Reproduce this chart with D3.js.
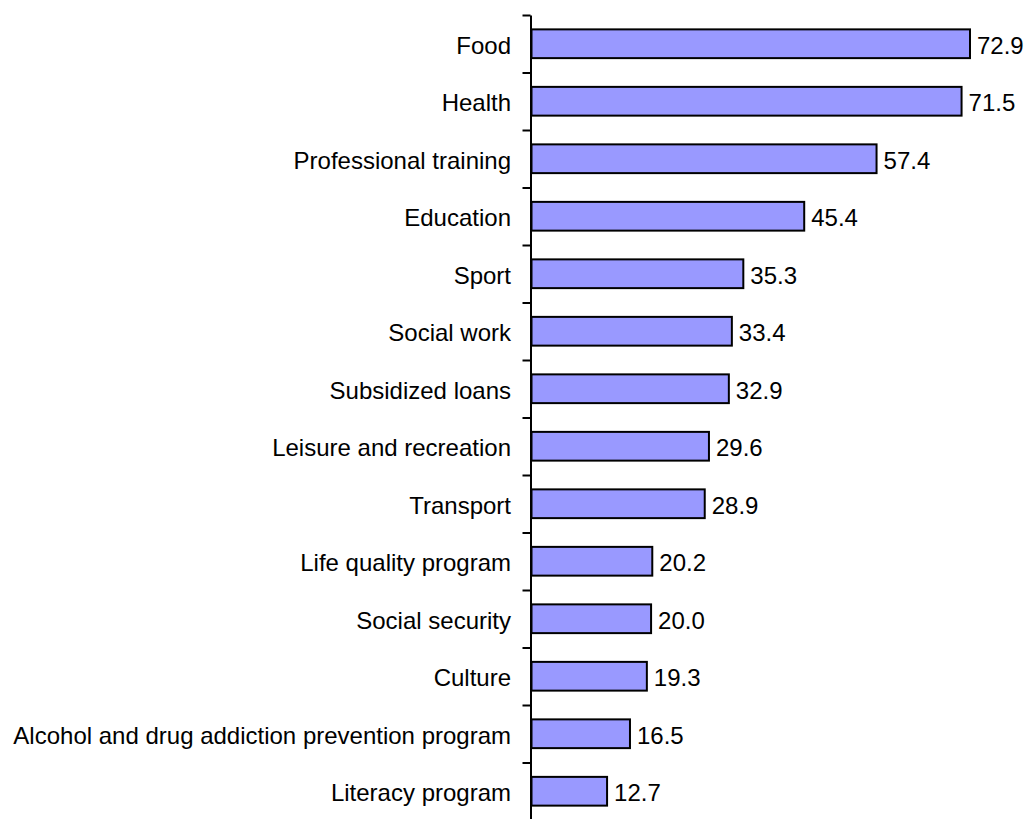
<!DOCTYPE html>
<html>
<head>
<meta charset="utf-8">
<script src="https://cdn.jsdelivr.net/npm/d3@7"></script>
<style>
  html, body { margin: 0; padding: 0; background: #fff; }
  svg { display: block; }
  text { font-family: "Liberation Sans", Arial, sans-serif; }
</style>
</head>
<body>
<svg id="chart" width="1027" height="819"></svg>
<script>
// Share of respondents per service area (%)
const categories = [
  "Food", "Health", "Professional training", "Education", "Sport",
  "Social work", "Subsidized loans", "Leisure and recreation", "Transport",
  "Life quality program", "Social security", "Culture",
  "Alcohol and drug addiction prevention program", "Literacy program"
];
const values = [72.9, 71.5, 57.4, 45.4, 35.3, 33.4, 32.9, 29.6, 28.9, 20.2, 20.0, 19.3, 16.5, 12.7];

const svg = d3.select("#chart");
const axisX = 530.5;
const plotTop = 15, plotBottom = 820;

const x = d3.scaleLinear().domain([0, 72.9]).range([axisX, 970]);
const y = d3.scaleBand().domain(categories).range([plotTop, plotBottom]).paddingInner(0.5).paddingOuter(0.25);

// Bars
svg.selectAll("rect.bar")
  .data(values)
  .join("rect")
  .attr("class", "bar")
  .attr("x", x(0) + 1)
  .attr("y", (d, i) => y(categories[i]))
  .attr("width", d => x(d) - x(0) - 1)
  .attr("height", y.bandwidth())
  .attr("fill", "#9999ff")
  .attr("stroke", "#000")
  .attr("stroke-width", 2);

// Value labels
svg.selectAll("text.val")
  .data(values)
  .join("text")
  .attr("class", "val")
  .attr("x", d => x(d) + 7)
  .attr("y", (d, i) => y(categories[i]) + y.bandwidth() / 2)
  .attr("dy", "0.41em")
  .attr("font-size", 24)
  .attr("fill", "#000")
  .text(d => d3.format(".1f")(d));

// Category labels
svg.selectAll("text.cat")
  .data(categories)
  .join("text")
  .attr("class", "cat")
  .attr("x", 511)
  .attr("y", d => y(d) + y.bandwidth() / 2)
  .attr("dy", "0.41em")
  .attr("text-anchor", "end")
  .attr("font-size", 24)
  .attr("fill", "#000")
  .text(d => d);

// Vertical axis with ticks on category boundaries
const axisScale = d3.scaleLinear().domain([0, categories.length]).range([plotTop, plotBottom]);
const axisG = svg.append("g").attr("transform", `translate(${axisX},0)`)
  .call(d3.axisLeft(axisScale).tickValues(d3.range(categories.length + 1)).tickSize(8).tickSizeOuter(0).tickFormat(""));
axisG.select(".domain").attr("stroke", "#000").attr("stroke-width", 2);
axisG.selectAll(".tick line").attr("stroke", "#000").attr("stroke-width", 2);
</script>
</body>
</html>
